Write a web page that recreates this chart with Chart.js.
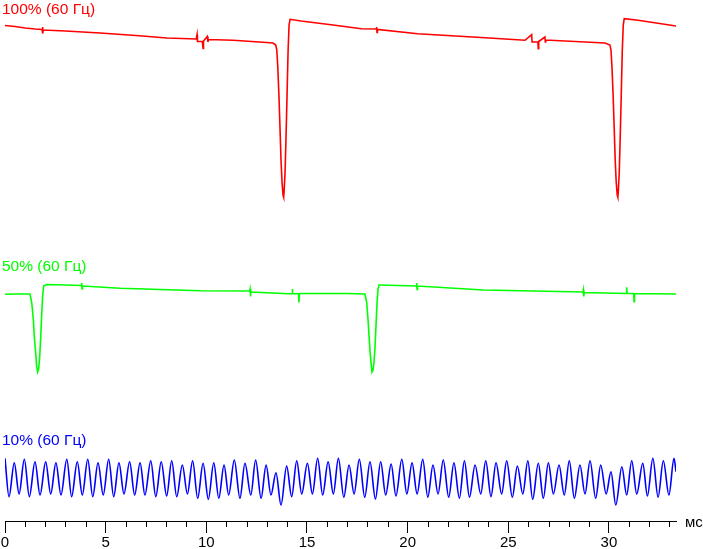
<!DOCTYPE html>
<html>
<head>
<meta charset="utf-8">
<script src="https://cdn.jsdelivr.net/npm/chart.js@4.4.1/dist/chart.umd.min.js"></script>
<style>
    html, body { margin: 0; padding: 0; background: #fff; }
    canvas { display: block; }
</style>
</head>
<body>
<canvas id="flickerChart" width="703" height="549"></canvas>
<script>
// time in ms, level in arbitrary units (traces are stacked on one axis)
const redT = [0, 0.5, 1.0, 1.5, 1.84, 1.86, 1.88, 1.90, 3.0, 4.72, 6.5, 8.05, 9.5, 9.54, 9.56, 9.8, 9.84, 9.86, 10.05, 10.08, 10.1, 11.33, 13.0, 13.31,
    13.45, 13.50, 13.55, 13.61, 13.66, 13.71, 13.76, 13.81, 13.84, 13.86, 13.91, 13.96, 14.01, 14.06, 14.11, 14.16,
    14.7, 16.2, 17.7, 18.44, 18.46, 18.48, 18.50, 20.5, 23.85, 25.83, 26.16, 26.18, 26.47, 26.49, 26.51, 26.82, 26.84, 26.86, 29.8,
    30.05, 30.10, 30.15, 30.21, 30.26, 30.31, 30.36, 30.41, 30.44, 30.46, 30.51, 30.56, 30.61, 30.66, 30.71, 30.76, 31.45, 33.33];
const redV = [495.5, 494.5, 493, 492, 491.5, 494, 487.5, 491, 490, 488, 485.5, 483, 482, 486.5, 479.5, 479.5, 472.5, 480, 484.5, 479, 481.5, 480.7, 478.5, 478,
    476, 471, 454, 424, 393, 361, 339, 326, 324, 328, 348, 384, 426, 469, 496, 501.7,
    500, 496.3, 492.3, 492, 494, 488.5, 491.5, 487.3, 483.3, 480.7, 486.3, 479, 479, 472.3, 479.5, 484, 479, 481, 478,
    476, 471, 454, 424, 393, 361, 339, 326, 324, 328, 348, 384, 426, 469, 496, 502.3, 500.7, 495];

const greenT = [0, 0.5, 1.1, 1.24, 1.33, 1.41, 1.46, 1.53, 1.57, 1.62, 1.67, 1.72, 1.77, 1.82, 1.87, 1.92, 2.07, 3.0, 3.80, 3.81, 3.83, 3.85,
    5.72, 9.7, 12.15, 12.17, 12.19, 12.21, 14.1, 14.26, 14.27, 14.29, 14.58, 14.6, 14.62, 17.0, 17.88,
    17.97, 18.03, 18.08, 18.13, 18.18, 18.23, 18.28, 18.33, 18.38, 18.43, 18.48, 18.53, 18.58, 18.63,
    20.43, 20.45, 20.47, 20.49, 23.76, 28.71, 28.73, 28.75, 28.77, 30.86, 30.88, 30.90, 31.23, 31.25, 31.27, 33.33];
const greenV = [226.7, 227, 227, 227, 218, 201, 183, 167, 155, 149, 152, 163, 182, 205, 225, 235, 236.5, 236, 235.5, 238, 232, 235,
    232.7, 230.3, 230, 232, 224.5, 229, 227.3, 227.3, 232, 227.3, 227.3, 218.5, 227.5, 227.5, 227,
    218, 202, 186, 170, 158, 149, 151, 159, 174, 196, 218, 232, 236, 236,
    235, 238, 231.5, 235, 231, 229, 231, 224.5, 228.5, 227.5, 233.7, 227.5, 227.5, 219.3, 227.5, 227];

// blue: successive peaks and troughs of the ripple
const blueT = [0, 0.20, 0.46, 0.70, 0.96, 1.21, 1.49, 1.74, 2.02, 2.27,
    2.53, 2.78, 3.07, 3.31, 3.59, 3.84, 4.11, 4.36, 4.62, 4.88,
    5.15, 5.40, 5.66, 5.91, 6.19, 6.44, 6.71, 6.95, 7.24, 7.49,
    7.76, 8.03, 8.28, 8.53, 8.81, 9.06, 9.32, 9.57, 9.84, 10.10,
    10.37, 10.62, 10.88, 11.11, 11.39, 11.67, 11.92, 12.21, 12.45, 12.72,
    12.97, 13.21, 13.46, 13.71, 13.99, 14.24, 14.49, 14.74, 15.02, 15.27,
    15.53, 15.78, 16.05, 16.31, 16.56, 16.83, 17.09, 17.34, 17.60, 17.87,
    18.13, 18.40, 18.66, 18.91, 19.18, 19.42, 19.71, 19.96, 20.22, 20.47,
    20.75, 21.00, 21.26, 21.51, 21.77, 22.04, 22.30, 22.57, 22.82, 23.07,
    23.35, 23.63, 23.88, 24.14, 24.39, 24.67, 24.92, 25.20, 25.45, 25.72,
    25.97, 26.21, 26.49, 26.74, 26.99, 27.24, 27.52, 27.78, 28.03, 28.28,
    28.56, 28.81, 29.06, 29.34, 29.59, 29.86, 30.10, 30.34, 30.64, 30.88,
    31.13, 31.38, 31.68, 31.91, 32.18, 32.44, 32.70, 32.98, 33.23, 33.33];
const blueV = [62.7, 24.3, 58.3, 27, 61.7, 24.3, 59.3, 26, 59.3, 27,
    58.3, 26, 61.7, 24.3, 59.3, 26, 61.7, 24.3, 58.3, 26,
    61.7, 24.3, 58.3, 27, 59.3, 26, 58.3, 26, 60.3, 24.3,
    59.3, 25, 60.3, 24.3, 56, 27, 60.3, 22.7, 57.7, 21.7,
    58.3, 22.7, 56, 26, 61, 22.7, 57.7, 26, 61, 22.7,
    56, 26, 48.3, 16, 55, 24.3, 60.3, 27, 57.7, 27,
    62.7, 26, 59.3, 27, 62.7, 23.7, 56, 27, 61.7, 23.7,
    59.3, 22, 59.3, 26, 57, 25, 61.7, 27, 58.3, 27,
    61.7, 23.7, 56, 27, 61, 23.7, 58.3, 22.7, 60.3, 23.7,
    56, 27, 60.3, 24.3, 58.3, 27, 60.3, 23.7, 55, 27,
    60.3, 21.7, 57.7, 22.7, 58.3, 27, 56, 26, 60.3, 22.7,
    56, 27, 60.3, 22.7, 56, 27, 49.3, 16, 54.3, 26,
    60.3, 27, 57.7, 25, 62.7, 23.7, 60.3, 26, 62.7, 49.3];

const traceLabels = ['100% (60 Гц)', '50% (60 Гц)', '10% (60 Гц)'];
const traceColors = ['#ff0000', '#00ff00', '#0000ff'];
const labelLevels = [507, 250.5, 76];
const unitLabel = 'мс';
const fontFamily = '"Liberation Sans", Arial, sans-serif';

const toPoints = (ts, vs) => ts.map((t, i) => ({ x: t, y: vs[i] }));

const overlayPlugin = {
    id: 'overlay',
    afterDraw: (chart) => {
        const { ctx, chartArea, scales } = chart;
        const xs = scales.x;
        const ys = scales.y;
        ctx.save();
        // minor ticks every 1 ms
        ctx.strokeStyle = '#000';
        ctx.lineWidth = 1;
        ctx.beginPath();
        for (let v = 0; v <= xs.max; v++) {
            if (v % 5 === 0) continue;
            const px = Math.round(xs.getPixelForValue(v)) + 0.5;
            ctx.moveTo(px, chartArea.bottom);
            ctx.lineTo(px, chartArea.bottom + 6);
        }
        ctx.stroke();

        ctx.font = '15px ' + fontFamily;
        ctx.textBaseline = 'alphabetic';
        ctx.textAlign = 'left';
        ctx.fillStyle = '#000';
        ctx.fillText(unitLabel, chartArea.right + 9, chartArea.bottom + 6);

        ctx.font = '15.5px ' + fontFamily;
        traceLabels.forEach((text, i) => {
            ctx.fillStyle = traceColors[i];
            ctx.fillText(text, 2, ys.getPixelForValue(labelLevels[i]));
        });
        ctx.restore();
    }
};

const canvas = document.getElementById('flickerChart');
const ctx = canvas.getContext('2d');

const lineSet = (pts, color, smooth) => ({
    data: pts,
    borderColor: color,
    borderWidth: 1.6,
    pointRadius: 0,
    fill: false,
    tension: smooth ? 0.4 : 0,
    cubicInterpolationMode: smooth ? 'monotone' : 'default'
});

new Chart(ctx, {
    type: 'line',
    data: {
        datasets: [
            lineSet(toPoints(redT, redV), traceColors[0], false),
            lineSet(toPoints(greenT, greenV), traceColors[1], false),
            lineSet(toPoints(blueT, blueV), traceColors[2], true)
        ]
    },
    options: {
        responsive: false,
        animation: false,
        layout: { padding: { left: 5, right: 27, top: 1, bottom: 0 } },
        plugins: {
            legend: { display: false },
            tooltip: { enabled: false }
        },
        scales: {
            x: {
                type: 'linear',
                min: 0,
                max: 33.33,
                border: { display: true, color: '#000', width: 1 },
                grid: { display: true, drawOnChartArea: false, drawTicks: true, tickLength: 12, color: '#000' },
                ticks: {
                    stepSize: 5,
                    includeBounds: false,
                    autoSkip: false,
                    maxRotation: 0,
                    padding: 0,
                    color: '#000',
                    font: { family: fontFamily, size: 15, lineHeight: 1.25 }
                },
                afterFit: (scale) => { scale.height = 28; }
            },
            y: {
                display: false,
                min: 0,
                max: 520
            }
        }
    },
    plugins: [overlayPlugin]
});
</script>
</body>
</html>
